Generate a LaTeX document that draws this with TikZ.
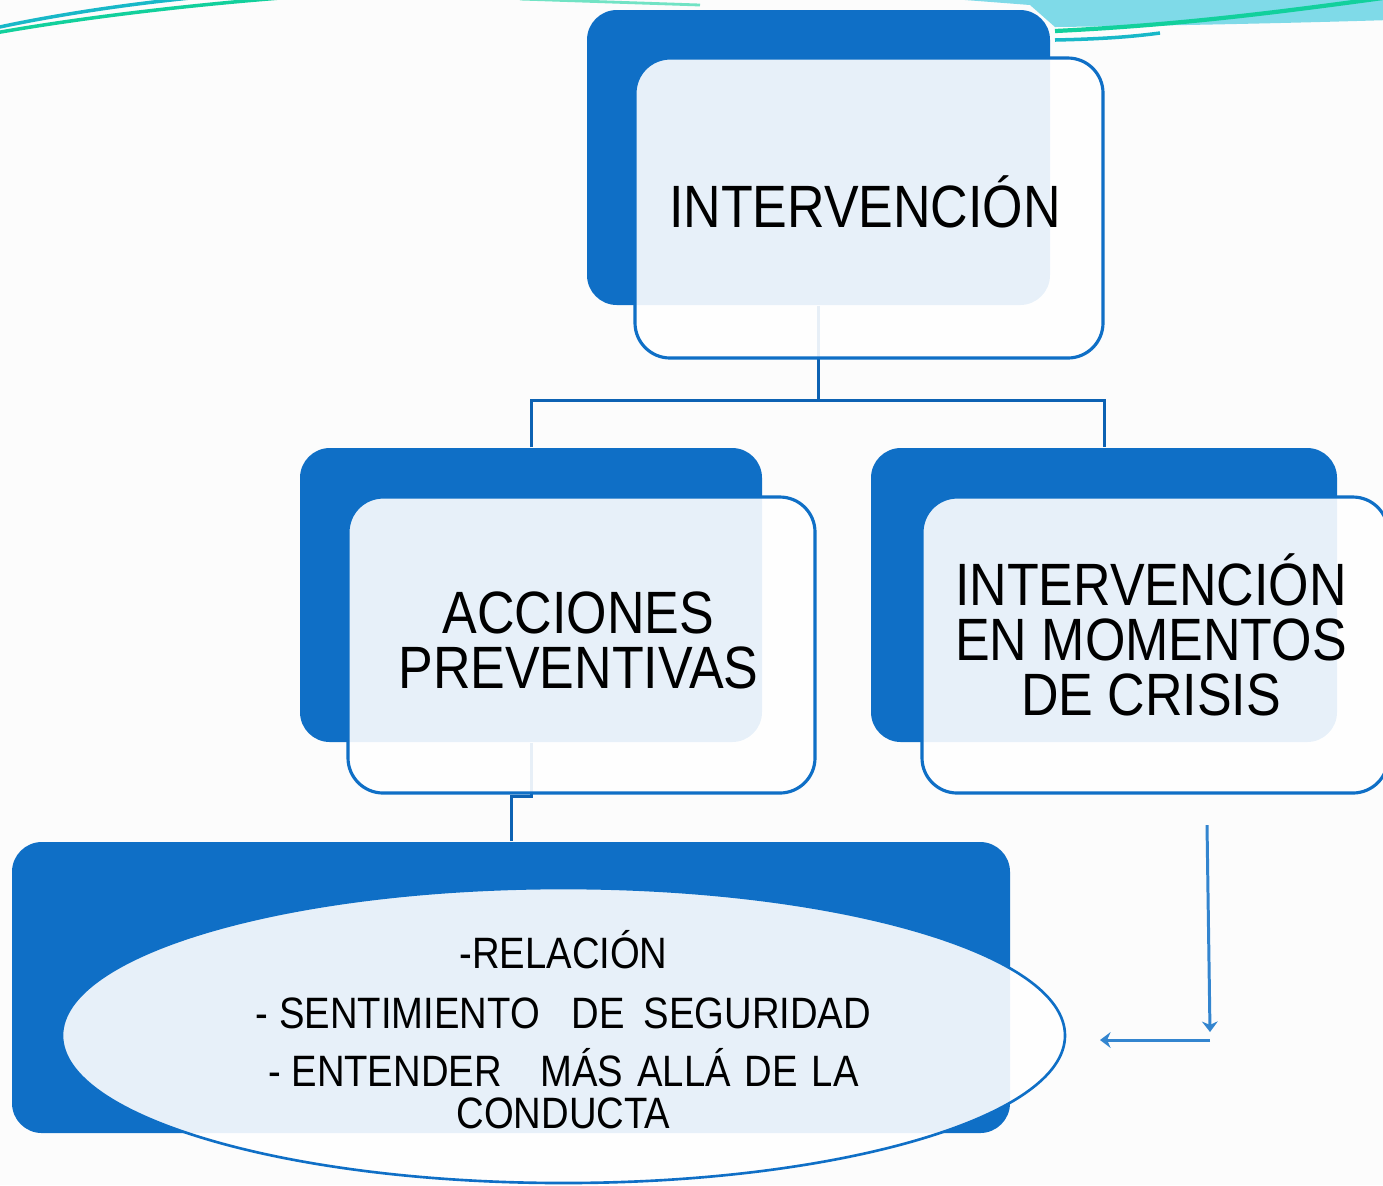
\documentclass[tikz,border=0pt]{standalone}
\usepackage{fontspec}
\newfontfamily\boxfont{Liberation Sans}[FakeStretch=0.87]
\usetikzlibrary{shapes.geometric}
\usetikzlibrary{arrows.meta}
\usetikzlibrary{calc}
\definecolor{smartblue}{HTML}{0F6FC6}
\definecolor{linkblue}{HTML}{0D62B3}
\definecolor{swoosh}{HTML}{7FDAE8}
\definecolor{tealline}{HTML}{18B8C8}
\definecolor{greenline}{HTML}{12D09C}
\definecolor{pagebg}{HTML}{FCFCFC}

\begin{document}
\begin{tikzpicture}
    % ================= styles =================
    \tikzset{
        % dark block behind
        backbox/.style={rectangle, rounded corners=8.5pt, fill=smartblue, inner sep=0pt},
        % translucent block in front
        frontbox/.style={rectangle, rounded corners=10pt, draw=smartblue, line width=0.9pt,
            fill=white, fill opacity=0.9, inner sep=0pt},
        ovalbox/.style={ellipse, draw=smartblue, line width=0.75pt, fill=white, fill opacity=0.9,
            inner sep=0pt},
        % texts on the blocks
        boxtext/.style={align=center, inner sep=0pt, font=\boxfont\fontsize{17}{15.6}\selectfont},
        ovaltext/.style={align=center, inner sep=0pt, font=\boxfont\fontsize{12.5}{12}\selectfont},
        link/.style={draw=linkblue, line width=0.85pt},
        arrowline/.style={draw=smartblue!85, line width=0.85pt}
    }

    % page
    \fill[pagebg] (0,0) rectangle (13.83,-11.85);
    \clip (0,0) rectangle (13.83,-11.85);

    % ================= top decoration =================
    \fill[swoosh] (9.00,0.05) -- (13.90,0.05) -- (13.90,-0.20)
        .. controls (12.60,-0.24) and (11.40,-0.26) .. (10.55,-0.27) -- (10.30,-0.05) -- cycle;
    \draw[tealline, line width=1pt] (-0.05,-0.28) .. controls (0.50,-0.16) and (1.20,-0.05) .. (1.90,0.02);
    \draw[greenline, line width=1pt] (-0.05,-0.33) .. controls (0.80,-0.18) and (1.80,-0.06) .. (2.80,0.02);
    \draw[greenline!60, line width=0.8pt] (5.20,0.01) -- (7.00,-0.05);
    \draw[greenline, line width=1.2pt] (10.55,-0.31) .. controls (11.80,-0.25) and (12.80,-0.12) .. (13.90,0.03);
    \draw[tealline, line width=1pt] (10.55,-0.40) .. controls (11.00,-0.39) and (11.30,-0.37) .. (11.60,-0.33);

    % ================= blocks behind =================
    \node[backbox, minimum width=4.63cm, minimum height=2.95cm] (topback) at (8.185,-1.575) {};
    \node[backbox, minimum width=4.62cm, minimum height=2.94cm] (leftback) at (5.31,-5.95) {};
    \node[backbox, minimum width=4.66cm, minimum height=2.94cm] (rightback) at (11.04,-5.95) {};
    \node[backbox, minimum width=9.98cm, minimum height=2.91cm] (bottomback) at (5.11,-9.875) {};

    % ================= connectors =================
    \draw[link] (topback.south) -- ++(0,-0.95) coordinate (fork);
    \draw[link] (leftback.north) |- (fork) -| (rightback.north);
    \draw[link] (leftback.south) -- ++(0,-0.54) -| (bottomback.north);

    % ================= blocks in front =================
    \node[frontbox, minimum width=4.68cm, minimum height=3.00cm] (top) at (8.69,-2.08) {};
    \node[frontbox, minimum width=4.67cm, minimum height=2.96cm] (left) at (5.815,-6.45) {};
    \node[frontbox, minimum width=4.66cm, minimum height=2.96cm] (right) at (11.55,-6.45) {};
    \node[ovalbox, minimum width=10.03cm, minimum height=2.95cm] (oval) at (5.635,-10.355) {};

    \node[boxtext] (toptext) at ([xshift=-0.04cm, yshift=0.06cm]top.center) {INTERVENCI\'ON};
    \node[boxtext] (lefttext) at ([xshift=-0.03cm, yshift=0.05cm]left.center) {ACCIONES\\PREVENTIVAS};
    \node[boxtext] (righttext) at ([xshift=-0.04cm, yshift=0.10cm]right.center) {INTERVENCI\'ON\\EN MOMENTOS\\DE CRISIS};
    \node[ovaltext] (ovaltxt) at ([yshift=0.06cm]oval.center)
        {-RELACI\'ON\\[5pt]
         - SENTIMIENTO\hspace{9pt}DE\hspace{5.5pt}SEGURIDAD\\[4.5pt]
         - ENTENDER\hspace{11pt}M\'AS\hspace{4pt}ALL\'A\hspace{4pt}DE\hspace{4pt}LA\\
         CONDUCTA};

    % ================= arrow to the oval =================
    \coordinate (arrowtop) at (12.07,-8.25);
    \coordinate (arrowbend) at (12.10,-10.40);
    \coordinate (arrowend) at (11.00,-10.40);
    \draw[arrowline, -{Stealth[length=3pt, width=4.5pt]}] (arrowtop) -- ($(arrowbend)+(0,0.08)$);
    \draw[arrowline, -{Stealth[length=3pt, width=4.5pt]}] (arrowbend) -- (arrowend);
\end{tikzpicture}
\end{document}
